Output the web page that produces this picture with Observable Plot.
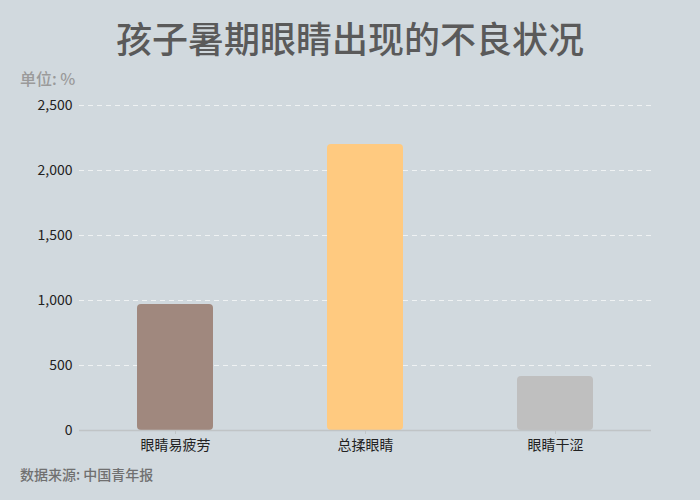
<!DOCTYPE html>
<html><head><meta charset="utf-8">
<script src="https://cdn.jsdelivr.net/npm/d3@7"></script>
<script src="https://cdn.jsdelivr.net/npm/@observablehq/plot@0.6"></script>
<style>
body{margin:0;background:#d1d9de;font-family:"Noto Sans CJK SC","Noto Sans",sans-serif;}
#wrap{position:relative;width:700px;height:500px;background:#d1d9de;overflow:hidden;}
#title{position:absolute;left:0;top:11px;width:700px;text-align:center;font-size:36px;font-weight:500;color:#5a5a5a;line-height:52px;}
#unit{position:absolute;left:20px;top:67px;font-size:16px;font-weight:500;color:#9a9a9a;line-height:22px;}
#src{position:absolute;left:20px;top:464px;font-size:14px;font-weight:500;color:#707070;line-height:20px;}
#chart{position:absolute;left:0;top:0;}
</style></head>
<body>
<div id="wrap">
<div id="chart"></div>
<div id="title">孩子暑期眼睛出现的不良状况</div>
<div id="unit">单位: %</div>
<div id="src">数据来源: 中国青年报</div>
</div>
<script>
const categories = ["眼睛易疲劳", "总揉眼睛", "眼睛干涩"];
const values = [970, 2200, 415];
const colors = ["#a0887e", "#ffca80", "#bfbfbf"];
const yTicks = [0, 500, 1000, 1500, 2000, 2500];

const data = categories.map((c, i) => ({cat: c, value: values[i]}));

const chart = Plot.plot({
  width: 700,
  height: 500,
  marginTop: 105,
  marginBottom: 70,
  marginLeft: 79,
  marginRight: 49,
  style: {background: "transparent", fontFamily: "'Noto Sans CJK SC','Noto Sans',sans-serif", fontSize: "14px", color: "#222"},
  x: {domain: categories, paddingInner: 0.6, paddingOuter: 0.3, label: null},
  y: {domain: [0, 2500], label: null},
  color: {domain: categories, range: colors},
  marks: [
    Plot.ruleY(yTicks.filter(d => d > 0), {stroke: "#f2f4f5", strokeOpacity: 0.9, strokeDasharray: "5,4"}),
    Plot.barY(data, {x: "cat", y: "value", fill: "cat", rx: 4}),
    Plot.ruleY([0], {stroke: "#c0c4c6", strokeWidth: 1.5}),
    Plot.axisY({ticks: yTicks, tickFormat: d3.format(","), tickSize: 0, tickPadding: 7, fontSize: 14, label: null}),
    Plot.axisX({tickSize: 4, tickPadding: 6, fontSize: 14, stroke: "#c0c4c6", label: null})
  ]
});
document.getElementById("chart").appendChild(chart);
</script>
</body></html>
